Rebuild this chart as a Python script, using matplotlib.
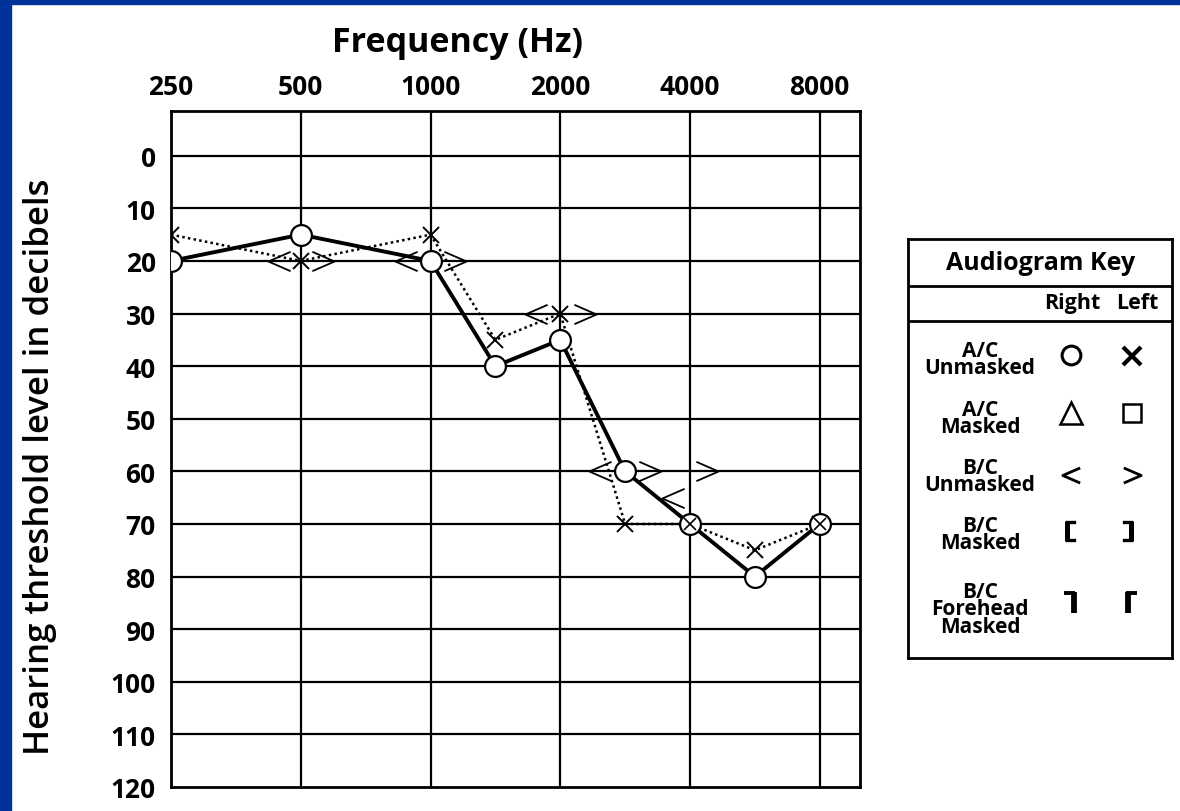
import numpy as np
import matplotlib
matplotlib.use("Agg")
import matplotlib.pyplot as plt
from matplotlib.path import Path
from matplotlib.patches import Rectangle

plt.rcParams['font.family'] = ['Open Sans', 'DejaVu Sans']

# audiogram data (frequency in Hz, threshold in dB HL)
freq_labels = ['250', '500', '1000', '2000', '4000', '8000']
freqs = [250, 500, 1000, 1500, 2000, 3000, 4000, 6000, 8000]
right_ac = [20, 15, 20, 40, 35, 60, 70, 80, 70]   # O, solid
left_ac = [15, 20, 15, 35, 30, 70, 70, 75, 70]    # X, dotted
bc_freqs = [500, 1000, 2000, 3000, 4000]
right_bc = [20, 20, 30, 60, 65]                   # <
left_bc = [20, 20, 30, 60, 60]                    # >
db_ticks = list(range(0, 130, 10))

# audiogram x position: one unit per octave, inter-octave at the midpoint
octaves = [250, 500, 1000, 2000, 4000, 8000]
def xpos(f):
    for i in range(len(octaves) - 1):
        if f == octaves[i]:
            return float(i)
        if octaves[i] < f < octaves[i + 1]:
            return i + 0.5
    return float(len(octaves) - 1)

W, H = 1180, 812
fig = plt.figure(figsize=(W / 100, H / 100), dpi=100, facecolor='white')

# blue frame on the left and top
blue = '#003399'
fig.patches.append(Rectangle((0, 0), 11 / W, 1, transform=fig.transFigure, color=blue, zorder=0))
fig.patches.append(Rectangle((0, 1 - 5 / H), 1, 5 / H, transform=fig.transFigure, color=blue, zorder=0))

ax = fig.add_axes([171 / W, 1 - 788 / H, (860 - 171) / W, (788 - 112) / H])
ax.set_xlim(0, 5.31)
ax.set_ylim(120, -8.5)

# grid
for i in range(len(octaves)):
    ax.axvline(i, color='black', lw=1.6, zorder=1)
for d in db_ticks[:-1]:
    ax.axhline(d, color='black', lw=1.6, zorder=1)
for s in ax.spines.values():
    s.set_linewidth(2.0)

ax.xaxis.tick_top()
ax.set_xticks(range(len(octaves)))
ax.set_xticklabels(freq_labels, fontsize=19, fontweight='bold')
ax.set_yticks(db_ticks)
ax.set_yticklabels([str(d) for d in db_ticks], fontsize=19, fontweight='bold')
ax.tick_params(length=0, pad=11)
ax.tick_params(axis='x', pad=8)

fig.text(458 / W, 1 - 43 / H, 'Frequency (Hz)', ha='center', va='center',
         fontsize=24.5, fontweight='bold')
fig.text(40 / W, 1 - 467 / H, 'Hearing threshold level in decibels', ha='center', va='center',
         rotation=90, fontsize=25, fontweight='semibold')

xr = [xpos(f) for f in freqs]
ax.plot(xr, left_ac, color='black', lw=1.8, linestyle=(0, (1.0, 1.3)), zorder=3)
ax.plot(xr, left_ac, linestyle='none', marker='x', ms=11, mew=1.4, color='black', zorder=4)
ax.plot(xr, right_ac, color='black', lw=2.8, zorder=5,
        marker='o', ms=15, mfc='white', mec='black', mew=1.6)
# overlap of X inside circles where both ears agree
same = [i for i in range(len(freqs)) if right_ac[i] == left_ac[i]]
ax.plot([xr[i] for i in same], [left_ac[i] for i in same], linestyle='none',
        marker='x', ms=9, mew=1.2, color='black', zorder=6)

# bone conduction chevrons
lt = Path([(1, 0.87), (-1, 0), (1, -0.87)], [Path.MOVETO, Path.LINETO, Path.LINETO])
gt = Path([(-1, 0.87), (1, 0), (-1, -0.87)], [Path.MOVETO, Path.LINETO, Path.LINETO])
xb = np.array([xpos(f) for f in bc_freqs])
off = np.array([0.17, 0.19, 0.19, 0.19, 0.13])
ax.plot(xb - off, right_bc, linestyle='none', marker=lt, ms=16, mew=1.3,
        mfc='none', mec='black', zorder=6)
ax.plot(xb + off, left_bc, linestyle='none', marker=gt, ms=16, mew=1.3,
        mfc='none', mec='black', zorder=6)

# audiogram key
k = fig.add_axes([908 / W, 1 - 659 / H, (1172 - 908) / W, (659 - 240) / H])
k.set_xlim(908, 1172)
k.set_ylim(659, 240)
k.set_xticks([])
k.set_yticks([])
for s in k.spines.values():
    s.set_linewidth(2.0)
k.axhline(287, color='black', lw=2.0)
k.axhline(322, color='black', lw=2.0)
k.text(1041, 264, 'Audiogram Key', ha='center', va='center', fontsize=18, fontweight='bold')
k.text(1072, 304, 'Right', ha='center', va='center', fontsize=15.5, fontweight='bold')
k.text(1137, 304, 'Left', ha='center', va='center', fontsize=15.5, fontweight='bold')

rows = ['A/C\nUnmasked', 'A/C\nMasked', 'B/C\nUnmasked', 'B/C\nMasked', 'B/C\nForehead\nMasked']
row_y = [360, 419, 477, 535, 610]
for lab, y in zip(rows, row_y):
    k.text(980, y, lab, ha='center', va='center', fontsize=15, fontweight='bold', linespacing=0.78)

xr_k, xl_k = 1071, 1132
k.plot(xr_k, 356, marker='o', ms=13.5, mfc='white', mec='black', mew=2.2)
k.plot(xl_k, 357, marker='x', ms=12.5, mew=3.0, color='black')
k.plot(xr_k, 414, marker='^', ms=16, mfc='white', mec='black', mew=1.8)
k.plot(xl_k, 414, marker='s', ms=13, mfc='white', mec='black', mew=1.8)
k.plot(xr_k, 476, marker=lt, ms=12.5, mfc='none', mec='black', mew=2.0)
k.plot(xl_k, 476, marker=gt, ms=12.5, mfc='none', mec='black', mew=2.0)
# masked brackets
k.plot([1074, 1067, 1067, 1074], [523, 523, 541, 541], color='black', lw=2.4, solid_joinstyle='miter')
k.plot([1124, 1131, 1131, 1124], [523, 523, 541, 541], color='black', lw=2.4, solid_joinstyle='miter')
k.plot([1067, 1067], [522, 542], color='black', lw=3.6, solid_capstyle='butt')
k.plot([1131, 1131], [522, 542], color='black', lw=3.6, solid_capstyle='butt')
# forehead masked
k.plot([1064, 1075], [594, 594], color='black', lw=2.8, solid_capstyle='butt')
k.plot([1073.5, 1073.5], [593, 614], color='black', lw=4.2, solid_capstyle='butt')
k.plot([1137, 1126], [594, 594], color='black', lw=2.8, solid_capstyle='butt')
k.plot([1127.5, 1127.5], [593, 614], color='black', lw=4.2, solid_capstyle='butt')

fig.savefig('out.png', dpi=100, facecolor='white')
